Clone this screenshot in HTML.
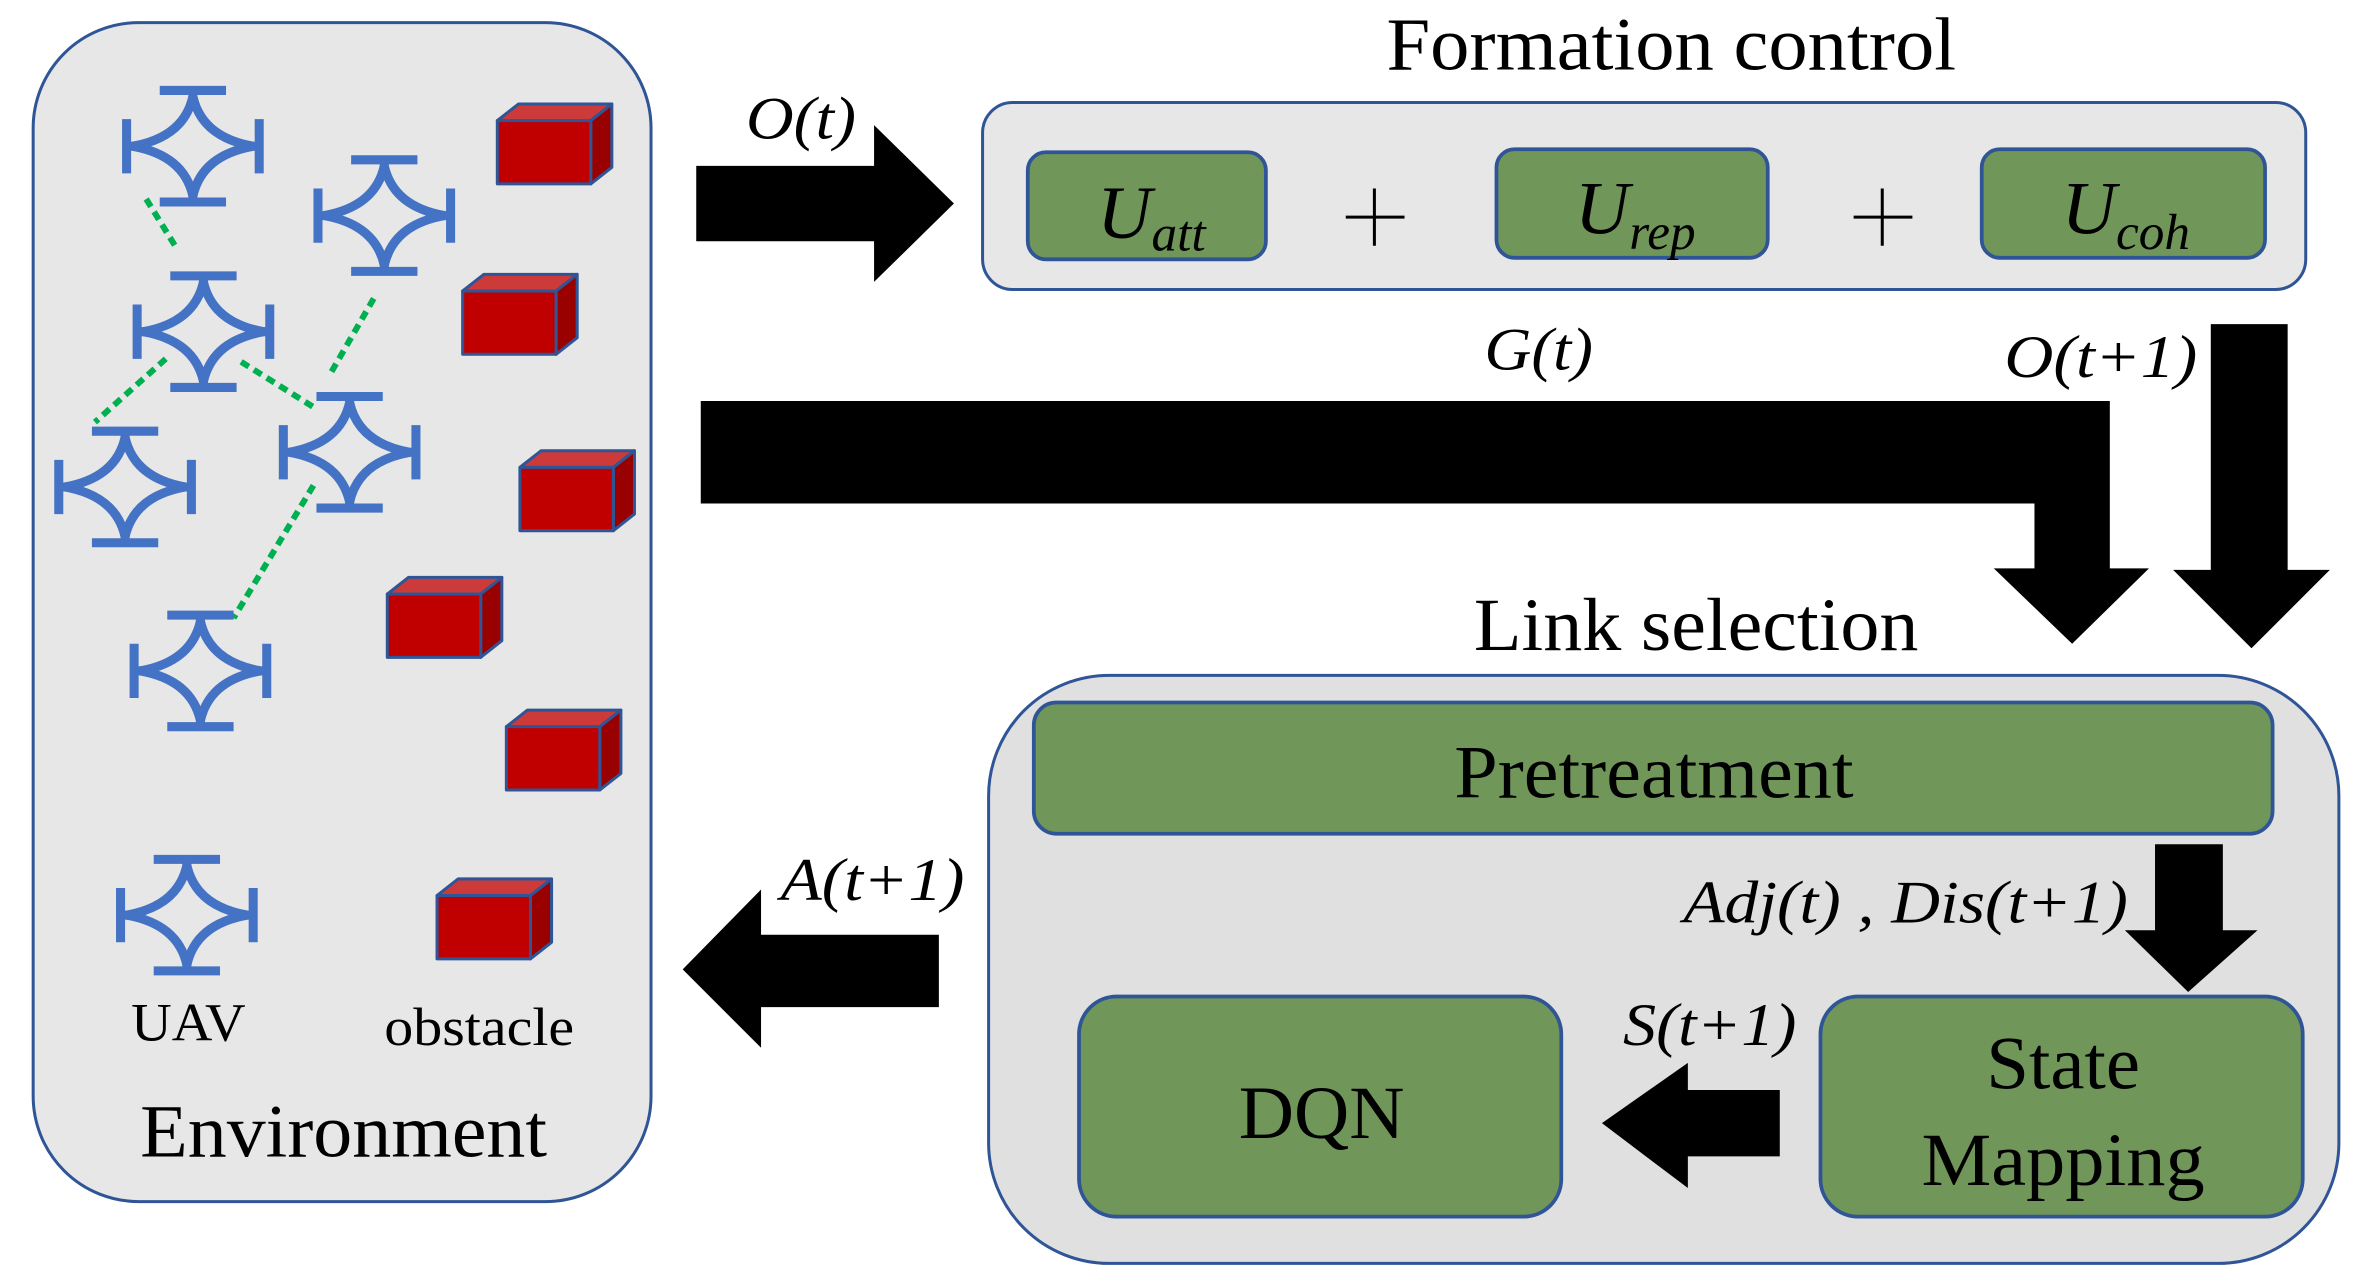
<!DOCTYPE html>
<html><head><meta charset="utf-8"><style>
html,body{margin:0;padding:0;background:#fff;width:2363px;height:1286px;overflow:hidden}
svg{display:block}
</style></head><body>
<svg width="2363" height="1286" viewBox="0 0 1568 853" preserveAspectRatio="none" font-family="Liberation Serif, serif">
<defs>
<g id="uav" fill="none" stroke="#4472c4" stroke-width="6">
<path d="M0,-33 Q6,-6 40,0 Q6,6 0,33 Q-6,6 -40,0 Q-6,-6 0,-33Z"/>
<path d="M-22,-37 H22 M-22,37 H22 M-44,-18 V18 M44,-18 V18 M0,-37 V-31 M0,37 V31 M-44,0 H-38 M44,0 H38"/>
</g>
<g id="obs" stroke="#2f5597" stroke-width="2" stroke-linejoin="round">
<path d="M0,0 L14,-11 L76,-11 L62,0Z" fill="#cc3a3a"/>
<path d="M62,0 L76,-11 L76,31 L62,42Z" fill="#990000"/>
<rect x="0" y="0" width="62" height="42" fill="#c00000"/>
</g>
</defs>

<rect x="22" y="15" width="410" height="782" rx="70" fill="#e7e7e7" stroke="#2f5597" stroke-width="2"/>
<g stroke="#00b050" stroke-width="4" stroke-dasharray="6 4">
<line x1="97" y1="132" x2="118" y2="166"/>
<line x1="248" y1="198" x2="218" y2="250"/>
<line x1="110" y1="238" x2="63" y2="280"/>
<line x1="160" y1="240" x2="208" y2="270"/>
<line x1="208" y1="322" x2="155" y2="410"/>
</g>
<use href="#uav" x="128" y="97"/>
<use href="#uav" x="255" y="143"/>
<use href="#uav" x="135" y="220"/>
<use href="#uav" x="83" y="323"/>
<use href="#uav" x="232" y="300"/>
<use href="#uav" x="133" y="445"/>
<use href="#uav" x="124" y="607"/>
<use href="#obs" x="330" y="80"/>
<use href="#obs" x="307" y="193"/>
<use href="#obs" x="345" y="310"/>
<use href="#obs" x="257" y="394"/>
<use href="#obs" x="336" y="482"/>
<use href="#obs" x="290" y="594"/>
<g font-family="Liberation Serif, serif" lengthAdjust="spacingAndGlyphs">
<text x="87" y="690" font-size="36" textLength="76" lengthAdjust="spacingAndGlyphs">UAV</text>
<text x="255" y="693" font-size="36" textLength="126" lengthAdjust="spacingAndGlyphs">obstacle</text>
<text x="93" y="767" font-size="50" textLength="270" lengthAdjust="spacingAndGlyphs">Environment</text>

<text x="920" y="46" font-size="50" textLength="378" lengthAdjust="spacingAndGlyphs">Formation control</text>
<rect x="652" y="68" width="878" height="124" rx="20" fill="#e7e7e7" stroke="#2f5597" stroke-width="2"/>
<g fill="#71965a" stroke="#2f5597" stroke-width="2.5">
<rect x="682" y="101" width="158" height="71" rx="12"/>
<rect x="993" y="99" width="180" height="72" rx="12"/>
<rect x="1315" y="99" width="188" height="72" rx="12"/>
</g>
<text x="728" y="158" font-size="50" font-style="italic">U<tspan font-size="34" dy="8">att</tspan></text>
<text x="1045" y="155" font-size="50" font-style="italic">U<tspan font-size="34" dy="10">rep</tspan></text>
<text x="1368" y="155" font-size="50" font-style="italic">U<tspan font-size="34" dy="10">coh</tspan></text>
<path d="M893,144 H932 M912,125 V163 M1230,144 H1269 M1249,125 V163" stroke="#000" stroke-width="2"/>

<path d="M462,110 H580 V83 L633,135 L580,187 V160 H462Z" fill="#000"/>
<text x="495" y="92" font-size="40" font-style="italic" textLength="73" lengthAdjust="spacingAndGlyphs">O(t)</text>
<text x="985" y="245" font-size="40" font-style="italic" textLength="72" lengthAdjust="spacingAndGlyphs">G(t)</text>
<path d="M465,266 H1400 V377 H1426 L1375,427 L1323,377 H1350 V334 H465Z" fill="#000"/>
<text x="1330" y="250" font-size="40" font-style="italic" textLength="128" lengthAdjust="spacingAndGlyphs">O(t+1)</text>
<path d="M1467,215 H1518 V378 H1546 L1494,430 L1442,378 H1467Z" fill="#000"/>

<text x="978" y="431" font-size="50" textLength="295" lengthAdjust="spacingAndGlyphs">Link selection</text>
<rect x="656" y="448" width="896" height="390" rx="80" fill="#e0e0e0" stroke="#2f5597" stroke-width="2"/>
<rect x="686" y="466" width="822" height="87" rx="15" fill="#71965a" stroke="#2f5597" stroke-width="2.5"/>
<text x="965" y="529" font-size="50" textLength="265" lengthAdjust="spacingAndGlyphs">Pretreatment</text>
<path d="M1430,560 H1475 V617 H1498 L1452,658 L1410,617 H1430Z" fill="#000"/>
<text x="1117" y="612" font-size="40" font-style="italic" textLength="295" lengthAdjust="spacingAndGlyphs">Adj(t) , Dis(t+1)</text>
<rect x="716" y="661" width="320" height="146" rx="25" fill="#71965a" stroke="#2f5597" stroke-width="2.5"/>
<text x="822" y="755" font-size="50" textLength="110" lengthAdjust="spacingAndGlyphs">DQN</text>
<rect x="1208" y="661" width="320" height="146" rx="25" fill="#71965a" stroke="#2f5597" stroke-width="2.5"/>
<text x="1318" y="722" font-size="50" textLength="102" lengthAdjust="spacingAndGlyphs">State</text>
<text x="1275" y="786" font-size="50" textLength="188" lengthAdjust="spacingAndGlyphs">Mapping</text>
<path d="M1181,723 H1120 V705 L1063,745 L1120,788 V767 H1181Z" fill="#000"/>
<text x="1077" y="693" font-size="40" font-style="italic" textLength="115" lengthAdjust="spacingAndGlyphs">S(t+1)</text>
<path d="M623,620 H505 V590 L453,643 L505,695 V668 H623Z" fill="#000"/>
<text x="518" y="597" font-size="40" font-style="italic" textLength="122" lengthAdjust="spacingAndGlyphs">A(t+1)</text>
</g>
</svg>
</body></html>
